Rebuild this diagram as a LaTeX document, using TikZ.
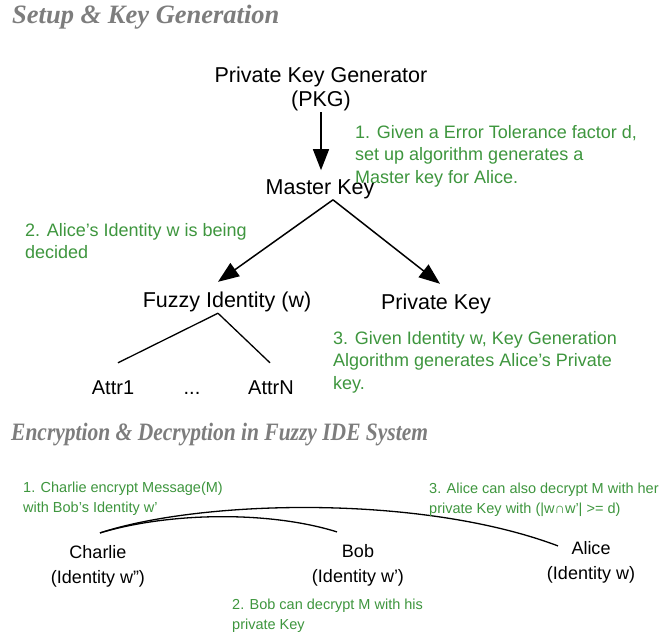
\documentclass[tikz,border=0pt]{standalone}
\usepackage{fontspec}
\setmainfont{Liberation Sans}
\newfontfamily\titlefont{Liberation Serif}
\newfontfamily\narrowtitlefont[FakeStretch=0.86]{Liberation Serif}
\usepackage{xcolor}
\usetikzlibrary{arrows.meta, positioning, calc}

\definecolor{notegreen}{RGB}{62,150,62}
\definecolor{titlegray}{RGB}{125,125,125}

\begin{document}
\begin{tikzpicture}[
    x=1pt, y=-1pt,
    heading/.style={anchor=west, inner sep=0pt, text=titlegray, font=\titlefont\bfseries\itshape\fontsize{26.5}{30}\selectfont},
    entity/.style={inner sep=1pt, align=center, font=\fontsize{21.5}{24}\selectfont},
    attr/.style={inner sep=0pt, text height=14pt, text depth=0pt, font=\fontsize{20}{24}\selectfont},
    party/.style={inner sep=0pt, align=center, font=\fontsize{18}{25}\selectfont},
    note/.style={anchor=north west, inner sep=0pt, align=left, text=notegreen, font=\fontsize{18}{22.5}\selectfont},
    smallnote/.style={note, font=\fontsize{14.5}{20}\selectfont},
    keyarrow/.style={-{Triangle[length=21pt,width=16pt]}, line width=1.5pt},
    link/.style={line width=1.3pt}
]

\fill[white] (0,0) rectangle (671,642);
\useasboundingbox (0,0) rectangle (671,642);

% Setup and key generation
\node[heading] (setup) at (12,17) {Setup \& Key Generation};

\node[entity] (pkg) at (321,89) {Private Key Generator\\(PKG)};
\node[entity] (master) at (320,189) {Master Key};
\node[entity] (fuzzy) at (227,302) {Fuzzy Identity (w)};
\node[entity] (pkey) at (436,304) {Private Key};

\node[attr] (attr1) at (113,387) {Attr1};
\node[attr] (dots) at (192,387) {...};
\node[attr] (attrN) at (271,387) {AttrN};

\draw[keyarrow, shorten >=8pt] (pkg.south) -- (pkg.south |- master.north);

\coordinate (fork) at ([xshift=13pt]master.south);
\draw[keyarrow] (fork) -- ([xshift=-9pt,yshift=9pt]fuzzy.north);
\draw[keyarrow] (fork) -- ([xshift=4pt,yshift=9pt]pkey.north);

\coordinate (split) at ([xshift=-9pt]fuzzy.south);
\draw[link] (split) -- ([xshift=5pt,yshift=17pt]attr1.north);
\draw[link] (split) -- ([xshift=-1pt,yshift=17pt]attrN.north);

% Steps
\node[note] (step1) at (355,125) {1. Given a Error Tolerance factor d,\\set up algorithm generates a\\Master key for Alice.};
\node[note] (step2) at (25,223) {2. Alice's Identity w is being\\decided};
\node[note] (step3) at (333,331) {3. Given Identity w, Key Generation\\Algorithm generates Alice's Private\\key.};

% Encryption and decryption
\node[heading, font=\narrowtitlefont\bfseries\itshape\fontsize{25}{30}\selectfont] (crypto) at (11,435) {Encryption \& Decryption in Fuzzy IDE System};

\node[party] (charlie) at (98,566) {Charlie\\(Identity w'')};
\node[party] (bob) at (358,565) {Bob\\(Identity w')};
\node[party] (alice) at (591,562) {Alice\\(Identity w)};

\draw[link] ([xshift=2pt,yshift=12pt]charlie.north) .. controls +(70,-21) and +(-67,-21) .. ([xshift=-21pt,yshift=12pt]bob.north);
\draw[link] ([xshift=2pt,yshift=12pt]charlie.north) .. controls +(100,-33) and +(-138,-52) .. ([xshift=-33pt,yshift=-5pt]alice.north);

\node[smallnote] (encrypt) at (23,482) {1. Charlie encrypt Message(M)\\with Bob's Identity w'};
\node[smallnote] (bobdec) at (232,599) {2. Bob can decrypt M with his\\private Key};
\node[smallnote] (alicedec) at (429,483) {3. Alice can also decrypt M with her\\private Key with (|w∩w'| >= d)};

\end{tikzpicture}
\end{document}
